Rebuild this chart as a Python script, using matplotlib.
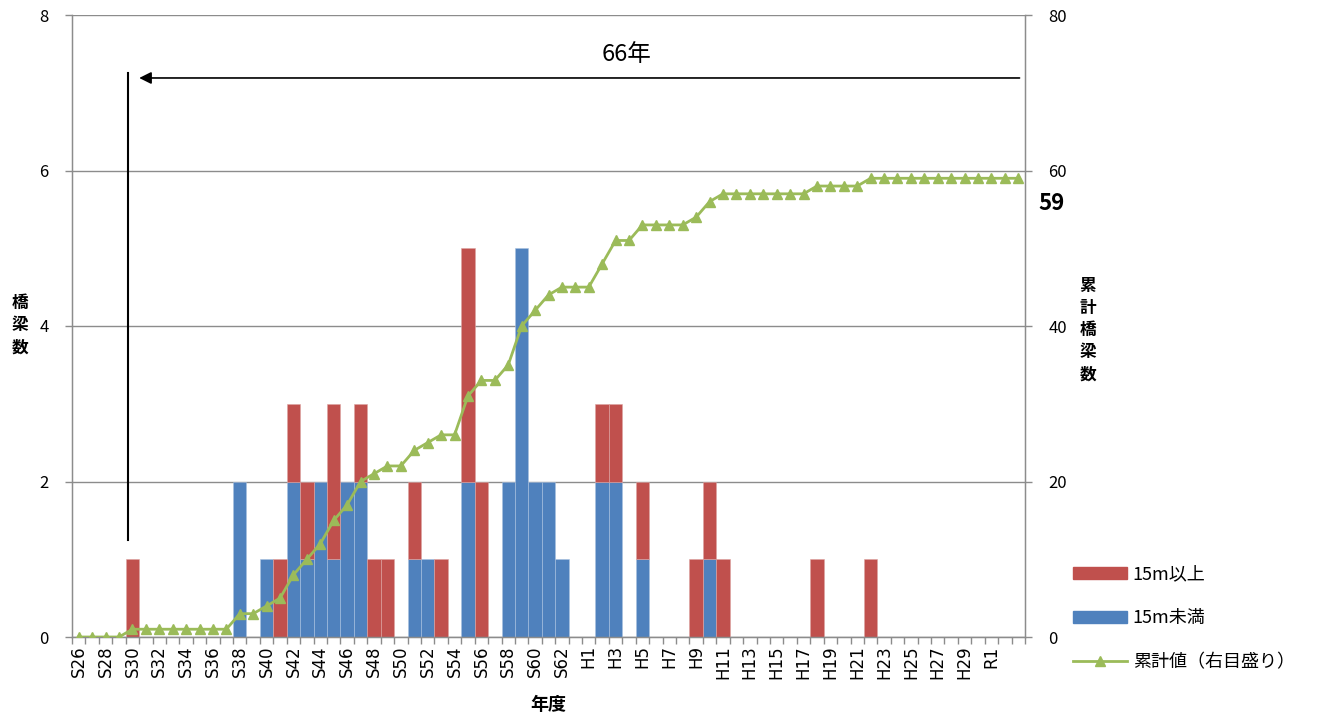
import numpy as np
import matplotlib
matplotlib.use('Agg')
import matplotlib.pyplot as plt
from matplotlib.patches import Patch
from matplotlib.lines import Line2D

plt.rcParams['font.family'] = ['Noto Sans CJK JP', 'DejaVu Sans']

# 年度: S26-S63, H1-H30, R1-R3
years = ['S%d' % y for y in range(26, 64)] + ['H%d' % y for y in range(1, 31)] + ['R1', 'R2', 'R3']

# 15m以上 (red) by year index
over15 = [0, 0, 0, 0, 1, 0, 0, 0, 0, 0, 0, 0, 0, 0, 0, 1, 1, 1, 0, 2,
          0, 1, 1, 1, 0, 1, 0, 1, 0, 3, 2, 0, 0, 0, 0, 0, 0, 0, 0, 1,
          1, 0, 1, 0, 0, 0, 1, 1, 1, 0, 0, 0, 0, 0, 0, 1, 0, 0, 0, 1,
          0, 0, 0, 0, 0, 0, 0, 0, 0, 0, 0]
# 15m未満 (blue)
under15 = [0, 0, 0, 0, 0, 0, 0, 0, 0, 0, 0, 0, 2, 0, 1, 0, 2, 1, 2, 1,
           2, 2, 0, 0, 0, 1, 1, 0, 0, 2, 0, 0, 2, 5, 2, 2, 1, 0, 0, 2,
           2, 0, 1, 0, 0, 0, 0, 1, 0, 0, 0, 0, 0, 0, 0, 0, 0, 0, 0, 0,
           0, 0, 0, 0, 0, 0, 0, 0, 0, 0, 0]
# 累計値
cumulative = [0, 0, 0, 0, 1, 1, 1, 1, 1, 1, 1, 1, 3, 3, 4, 5, 8, 10, 12, 15,
              17, 20, 21, 22, 22, 24, 25, 26, 26, 31, 33, 33, 35, 40, 42, 44, 45, 45, 45, 48,
              51, 51, 53, 53, 53, 53, 54, 56, 57, 57, 57, 57, 57, 57, 57, 58, 58, 58, 58, 59,
              59, 59, 59, 59, 59, 59, 59, 59, 59, 59, 59]

RED = '#C0504D'
BLUE = '#4F81BD'
GREEN = '#9BBB59'
GRID = '#8C8C8C'

x = np.arange(len(years))
under = np.array(under15)
over = np.array(over15)

fig = plt.figure(figsize=(13.2, 7.17), dpi=100)
ax = fig.add_axes([72 / 1320, 1 - 637 / 717, (1025 - 72) / 1320, (637 - 15) / 717])

# only draw non-empty segments so no stray edge lines appear
mb = under > 0
ax.bar(x[mb], under[mb], width=1.0, color=BLUE, edgecolor='#A9C1E0', linewidth=0.4, zorder=2)
mr = over > 0
ax.bar(x[mr], over[mr], width=1.0, bottom=under[mr], color=RED, edgecolor='#DDA5A3',
       linewidth=0.4, zorder=2)

ax.set_xlim(-0.5, len(years) - 0.5)
ax.set_ylim(0, 8)
ax.set_yticks([0, 2, 4, 6, 8])
ax.yaxis.grid(True, color=GRID, linewidth=1.0, zorder=0)
ax.set_axisbelow(True)

ax.set_xticks(x[:69:2])
ax.set_xticklabels(years[:69:2], rotation=90, fontsize=12, family=['DejaVu Sans'])
ax.set_xticks(np.arange(-0.5, len(years), 1), minor=True)
ax.tick_params(axis='x', which='major', length=0, pad=6)
ax.tick_params(axis='x', which='minor', length=5, color=GRID, width=1)
ax.tick_params(axis='y', length=5, color=GRID, width=1, labelsize=12, pad=12)
for s in ['left', 'bottom', 'right']:
    ax.spines[s].set_color(GRID)
    ax.spines[s].set_linewidth(1.0)
ax.spines['top'].set_visible(False)

ax2 = ax.twinx()
ax2.plot(x, cumulative, color=GREEN, linewidth=2, marker='^', markersize=7, zorder=3)
ax2.set_ylim(0, 80)
ax2.set_yticks([0, 20, 40, 60, 80])
ax2.tick_params(axis='y', length=5, color=GRID, width=1, labelsize=12, pad=12)
for s in ['left', 'bottom', 'right']:
    ax2.spines[s].set_color(GRID)
ax2.spines['top'].set_visible(False)

# 66年 arrow and marker line
ax.plot([3.66, 3.66], [1.25, 7.26], color='black', linewidth=1.5, zorder=4)
ax.annotate('', xy=(4.3, 7.19), xytext=(70.3, 7.19),
            arrowprops=dict(arrowstyle='-|>', color='black', lw=1.2, mutation_scale=18), zorder=4)
ax.text(40.8, 7.49, '66年', fontsize=17, ha='center', va='center')

fig.text(1052 / 1320, 1 - 203 / 717, '59', fontsize=16, fontweight='bold', ha='center', va='center')

fig.text(20 / 1320, 1 - 325 / 717, '橋\n梁\n数', fontsize=12, fontweight='bold',
         ha='center', va='center', linespacing=1.3)
fig.text(1088 / 1320, 1 - 330 / 717, '累\n計\n橋\n梁\n数', fontsize=12, fontweight='bold',
         ha='center', va='center', linespacing=1.3)
fig.text(548 / 1320, 1 - 705 / 717, '年度', fontsize=13, fontweight='bold', ha='center', va='center')

handles = [Patch(facecolor=RED, edgecolor=RED),
           Patch(facecolor=BLUE, edgecolor=BLUE),
           Line2D([0], [0], color=GREEN, linewidth=2, marker='^', markersize=7)]
labels = ['15m以上', '15m未満', '累計値（右目盛り）']
fig.legend(handles, labels, loc='upper left', bbox_to_anchor=(1066 / 1320, 1 - 558 / 717),
           frameon=False, fontsize=13, handlelength=3.0, handleheight=0.7,
           labelspacing=1.45, handletextpad=0.3, borderaxespad=0)

fig.savefig('out.png', dpi=100)
